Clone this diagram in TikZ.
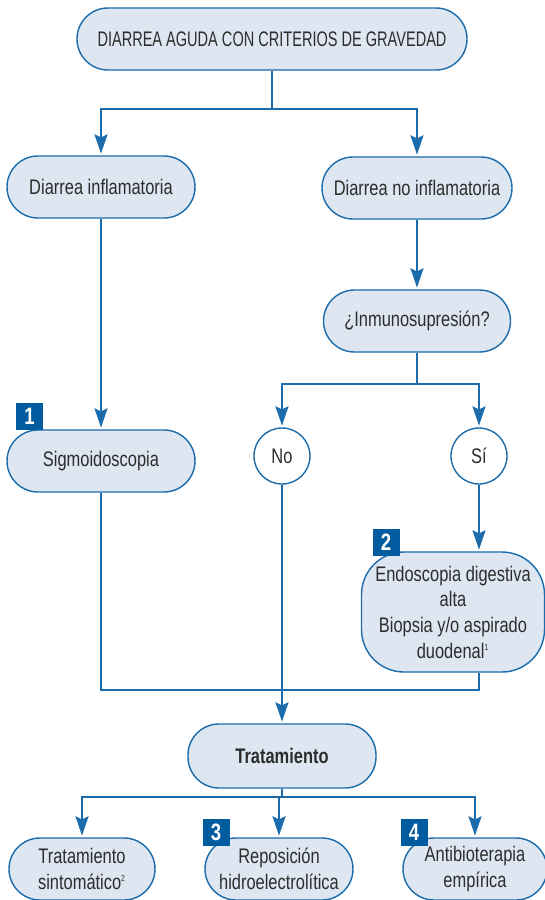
\documentclass[tikz,border=0pt]{standalone}
\usepackage{fontspec}
\setmainfont{Liberation Sans}[FakeStretch=0.78]
\newfontfamily\capsfont{Liberation Sans}[FakeStretch=0.69]
\usetikzlibrary{arrows.meta, calc}
\definecolor{boxblue}{RGB}{221, 230, 241}
\definecolor{edgeblue}{RGB}{28, 108, 172}
\definecolor{tagblue}{RGB}{0, 92, 158}
\definecolor{textgray}{RGB}{45, 45, 45}

\begin{document}
\begin{tikzpicture}[x=0.2mm, y=-0.2mm,
  pill/.style={draw=edgeblue, fill=boxblue, line width=0.8pt, rounded corners=6.2mm,
    minimum height=12.4mm, text=textgray, align=center, inner sep=1pt,
    font=\fontsize{12}{14.6}\selectfont},
  ring/.style={circle, draw=edgeblue, fill=white, line width=0.8pt, minimum size=11.2mm,
    inner sep=0pt, text=textgray, font=\fontsize{12}{14.6}\selectfont},
  tag/.style={fill=tagblue, minimum size=5.4mm, inner sep=0pt, text=white,
    font=\fontsize{13.5}{13.5}\selectfont\bfseries},
  link/.style={draw=edgeblue, line width=0.75pt},
  arr/.style={link, -{Stealth[length=11pt, width=7.5pt, inset=1.8pt]}, shorten >=1pt}]

  \useasboundingbox (0,0) rectangle (545,900);

  % cabecera
  \node[pill, minimum width=78mm, font=\capsfont\fontsize{12}{14}\selectfont] (top) at (272,39)
    {DIARREA AGUDA CON CRITERIOS DE GRAVEDAD};

  % rama izquierda / derecha
  \node[pill, minimum width=37.6mm] (inf) at (101,187) {Diarrea inflamatoria};
  \node[pill, minimum width=38mm] (noinf) at (417,188) {Diarrea no inflamatoria};
  \node[pill, minimum width=37.4mm] (inm) at (417,321) {¿Inmunosupresión?};

  \node[pill, minimum width=37.6mm] (sig) at (101,461) {Sigmoidoscopia};
  \node[ring] (no) at (282,456) {No};
  \node[ring] (si) at (479,456) {Sí};

  \node[pill, minimum width=36.6mm, minimum height=24mm, rounded corners=8.5mm] (endo) at (453,612)
    {Endoscopia digestiva\\alta\\Biopsia y/o aspirado\\duodenal\textsuperscript{\tiny 1}};

  % tratamiento
  \node[pill, minimum width=37.6mm, minimum height=12.8mm, font=\fontsize{12}{14.6}\selectfont\bfseries]
    (trat) at (282,756) {Tratamiento};

  \node[pill, minimum width=29.2mm] (sint) at (82,869) {Tratamiento\\sintomático\textsuperscript{\tiny 2}};
  \node[pill, minimum width=29.6mm] (repo) at (279,869) {Reposición\\hidroelectrolítica};
  \node[pill, minimum width=28.8mm] (anti) at (475,869) {Antibioterapia\\empírica};

  % numeros
  \node[tag] (t1) at (29.5,416) {1};
  \node[tag] (t2) at (386,542) {2};
  \node[tag] (t3) at (216,832) {3};
  \node[tag] (t4) at (414,832) {4};

  % conexiones
  \coordinate (split1) at (272,109);
  \coordinate (split2) at (417,384);
  \coordinate (join) at (479,690);
  \coordinate (split3) at (282,797);

  \draw[link] (top) -- (split1);
  \draw[arr] (split1) -| (inf);
  \draw[arr] (split1) -| (noinf);
  \draw[arr] (inf) -- (sig);
  \draw[arr] (noinf) -- (inm);
  \draw[link] (inm) -- (split2);
  \draw[arr] (split2) -| (no);
  \draw[arr] (split2) -| (si);
  \draw[arr] (si) -- (si |- endo.north);
  \draw[link] (sig) |- (join) -- (endo.south -| join);
  \draw[arr] (no) -- (no |- trat.north);
  \draw[link] (trat) -- (split3);
  \draw[arr] (split3) -| (sint);
  \draw[arr] (split3) -| (repo);
  \draw[arr] (split3) -| (anti);
\end{tikzpicture}
\end{document}
